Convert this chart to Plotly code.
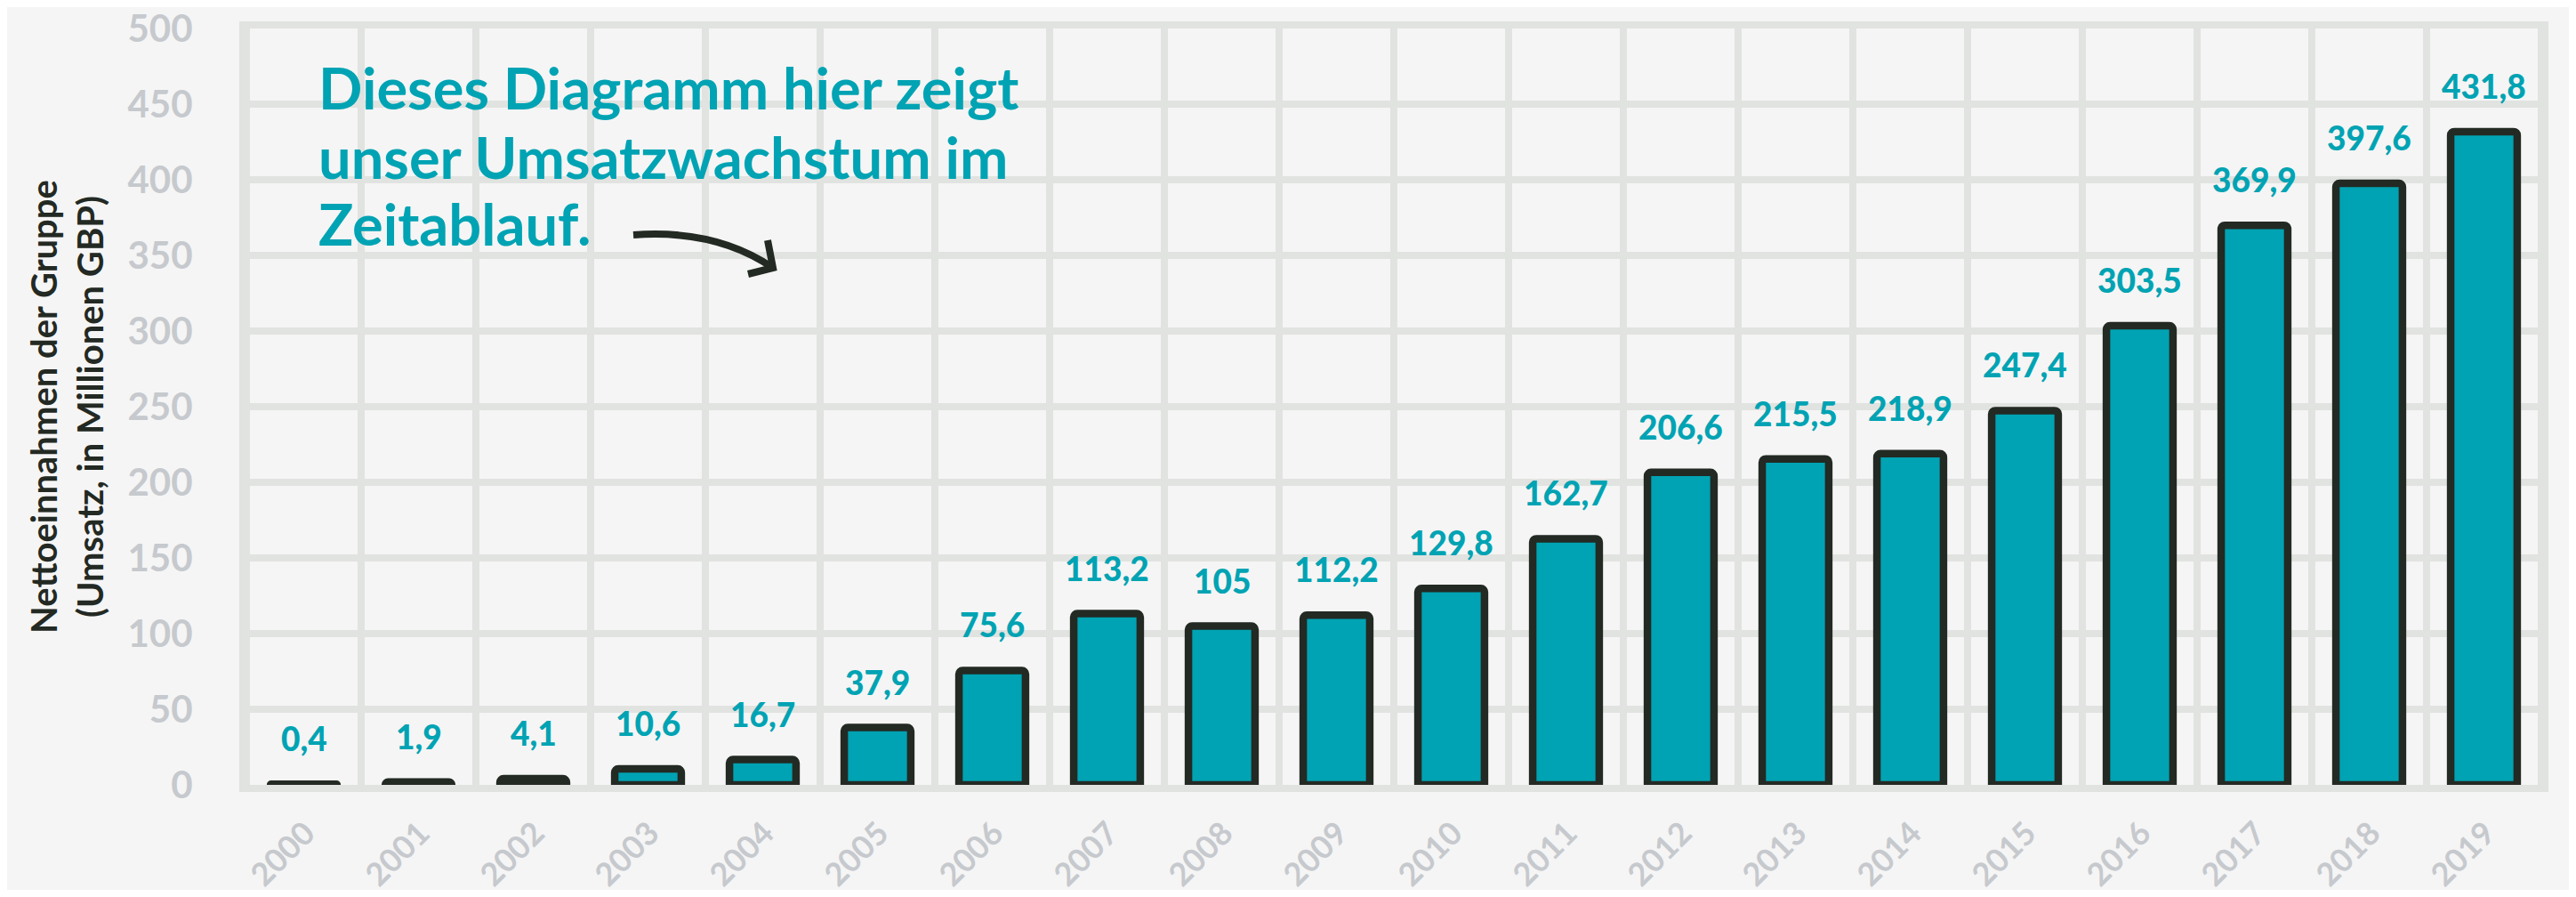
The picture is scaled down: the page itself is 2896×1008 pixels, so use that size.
import plotly.graph_objects as go

years = ['2000', '2001', '2002', '2003', '2004', '2005', '2006', '2007', '2008', '2009',
         '2010', '2011', '2012', '2013', '2014', '2015', '2016', '2017', '2018', '2019']
revenue = [0.4, 1.9, 4.1, 10.6, 16.7, 37.9, 75.6, 113.2, 105, 112.2,
           129.8, 162.7, 206.6, 215.5, 218.9, 247.4, 303.5, 369.9, 397.6, 431.8]
y_ticks = [0, 50, 100, 150, 200, 250, 300, 350, 400, 450, 500]

title_y = "Nettoeinnahmen der Gruppe<br>(Umsatz, in Millionen GBP)"
note_lines = ["Dieses Diagramm hier zeigt", "unser Umsatzwachstum im", "Zeitablauf."]

TEAL = "#00A3B3"
DARK = "#232923"
GRID = "#E1E3E0"
TICK = "#C6C9CD"
BG = "#F5F5F5"
FONT = "Lato"

# page is 2896x1008, the html body adds an 8px margin around the figure
OFF = 8
W, H = 2896 - 2 * OFF, 1008 - 2 * OFF
L, R, T, B = 277, 2857, 32, 882   # plot area in page pixels
def px(x, y):
    return (x - L) / (R - L), (B - y) / (B - T)

fig = go.Figure()

# vertical grid lines at category boundaries
for i in range(len(years) + 1):
    fig.add_shape(type="line", xref="x", yref="y domain", x0=i - 0.5, x1=i - 0.5, y0=0, y1=1,
                  layer="below", line=dict(color=GRID, width=8))

fig.add_trace(go.Bar(
    x=years, y=revenue,
    marker=dict(color=TEAL, line=dict(color=DARK, width=8.5), cornerradius=4),
    width=0.58,
    hoverinfo="x+y",
))

# value labels (x given as category index)
for i, v in enumerate(revenue):
    lab = f"{v:g}".replace(".", ",")
    fig.add_annotation(x=i, y=v, text=lab, showarrow=False, yanchor="bottom",
                       yshift=27, font=dict(family=FONT, size=37, color=TEAL, weight=900))

# rotated year labels under the axis
for i, yr in enumerate(years):
    fig.add_annotation(x=i, y=0, text=yr, showarrow=False, textangle=-45,
                       xanchor="right", yanchor="top", xshift=24, yshift=-28,
                       font=dict(family=FONT, size=36, color=TICK, weight="bold"))

# comment text, one annotation per line
for line, top_px in zip(note_lines, [57, 135, 210]):
    xp, yp = px(356, top_px)
    fig.add_annotation(xref="paper", yref="paper", x=xp, y=yp, xanchor="left", yanchor="top",
                       text=line, showarrow=False, align="left",
                       font=dict(family=FONT, size=65, color=TEAL, weight="bold"))

# curved arrow
p0 = px(712, 264); c1 = px(781, 259); c2 = px(831, 275); p1 = px(869, 301)
b1 = px(863, 270); b2 = px(841, 308)
path = (f"M {p0[0]},{p0[1]} C {c1[0]},{c1[1]} {c2[0]},{c2[1]} {p1[0]},{p1[1]} "
        f"M {b1[0]},{b1[1]} L {p1[0]},{p1[1]} L {b2[0]},{b2[1]}")
fig.add_shape(type="path", xref="paper", yref="paper", path=path,
              line=dict(color=DARK, width=8))

fig.update_layout(
    width=W, height=H,
    margin=dict(l=L - OFF, r=W - (R - OFF), t=T - OFF, b=H - (B - OFF)),
    paper_bgcolor=BG, plot_bgcolor=BG,
    showlegend=False,
    font=dict(family=FONT),
)
fig.update_xaxes(
    type="category", range=[-0.5, 19.5], automargin=False,
    showgrid=False, showticklabels=False,
    showline=True, mirror=True, linecolor=GRID, linewidth=8,
    ticks="",
)
fig.update_yaxes(
    range=[0, 500], tickvals=y_ticks, automargin=False,
    showgrid=True, gridcolor=GRID, gridwidth=8, zeroline=False,
    showline=True, mirror=True, linecolor=GRID, linewidth=8,
    ticks="", ticklabelstandoff=44, ticklabeloverflow="allow",
    tickfont=dict(family=FONT, size=42, color=TICK, weight="bold"),
    title=dict(text=title_y, standoff=18,
               font=dict(family=FONT, size=40, color=DARK, weight="bold")),
)

fig.write_html("out.html")
